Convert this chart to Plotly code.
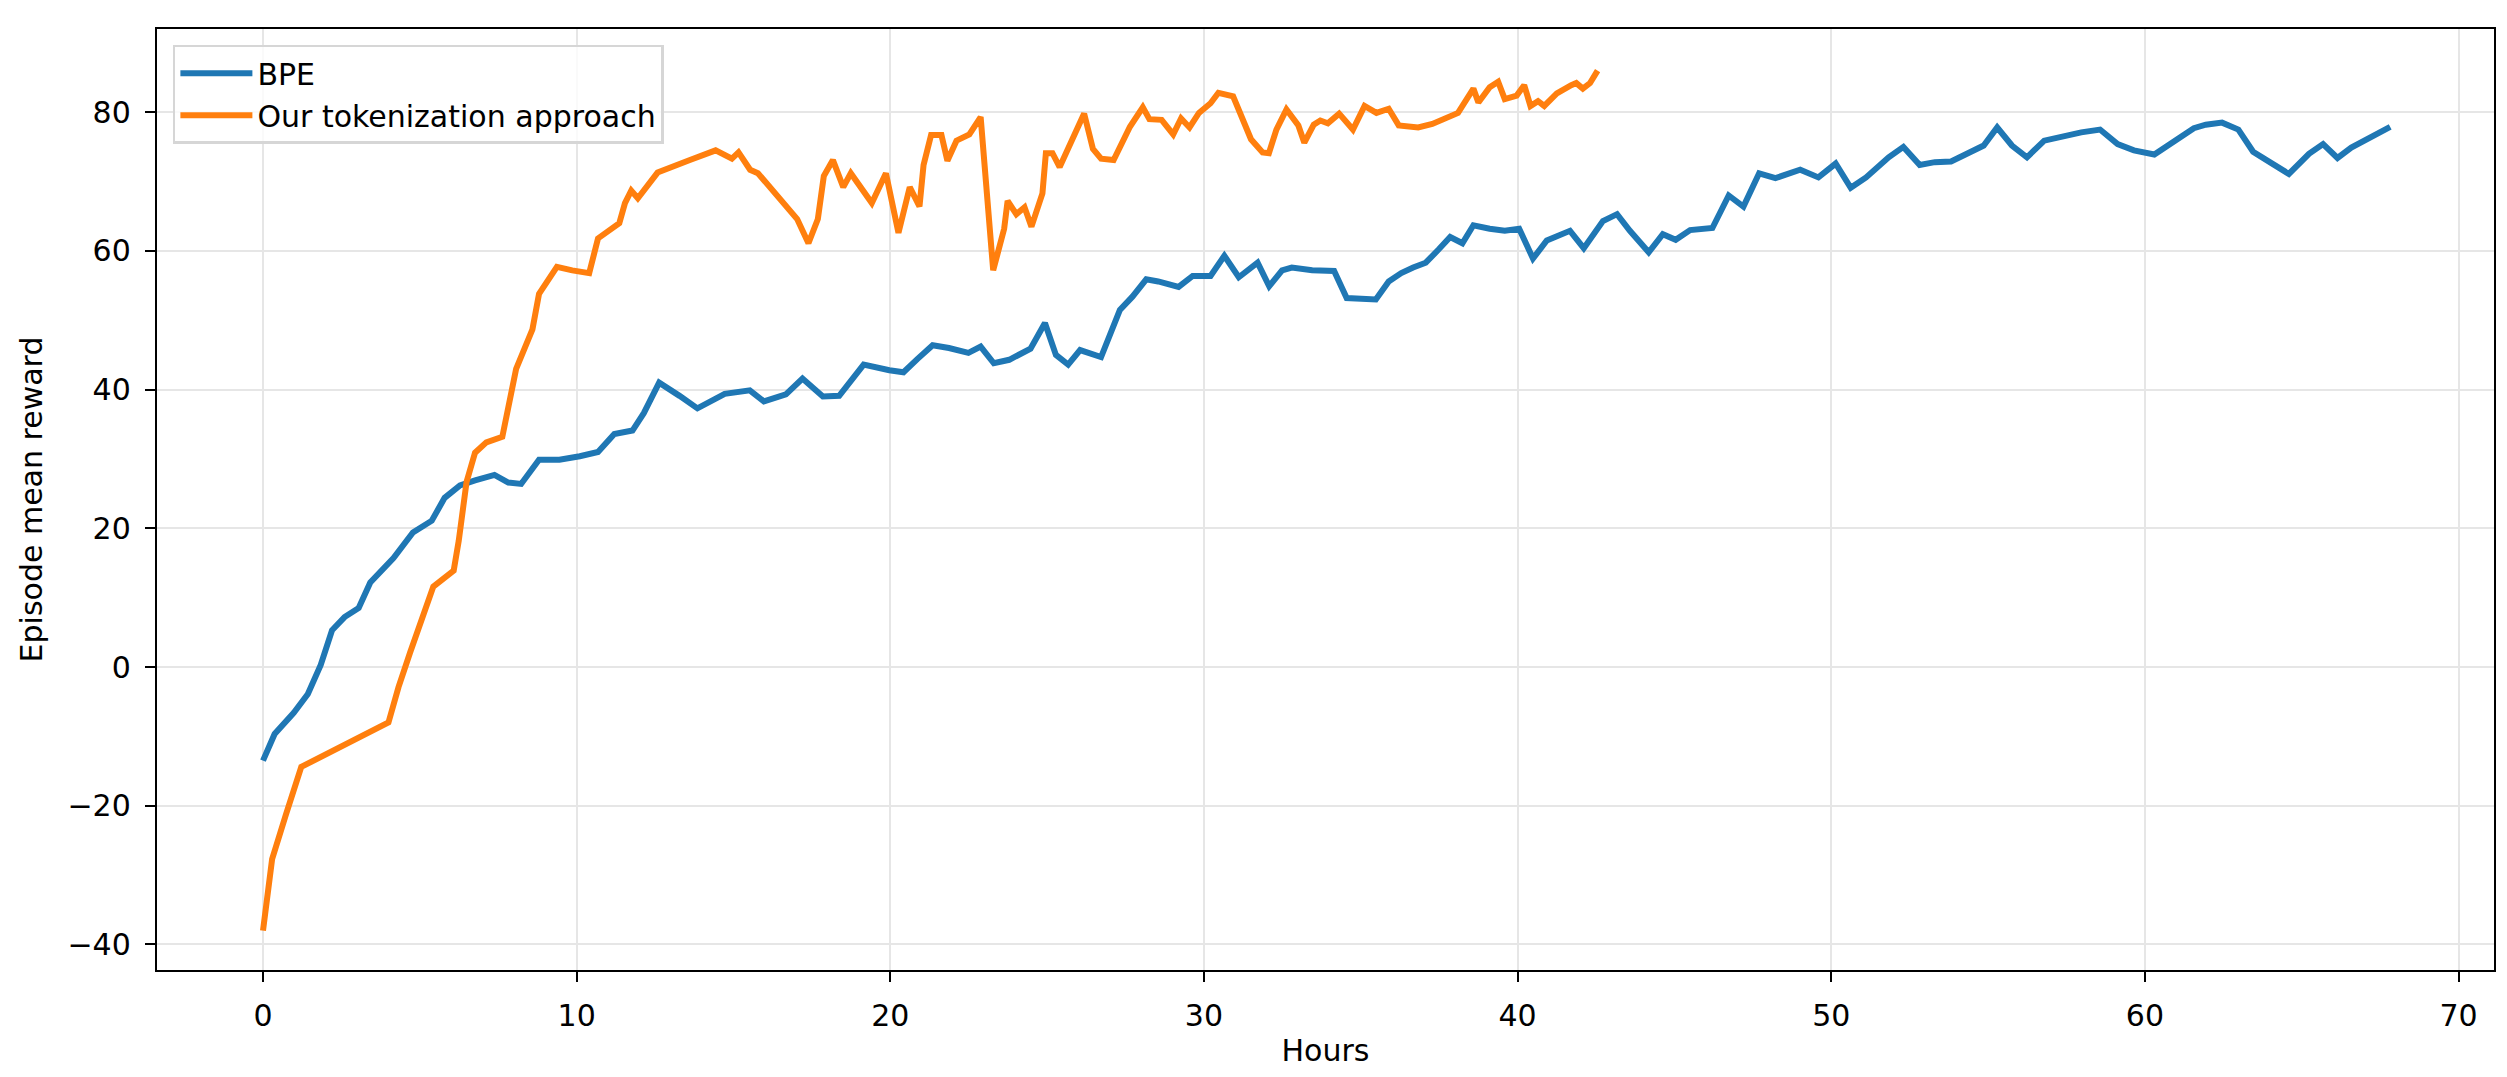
import plotly.graph_objects as go

# BPE run
bpe_hours = [0, 0.37, 0.98, 1.43, 1.84, 2.2, 2.6, 3.05, 3.42, 4.16,
             4.78, 5.38, 5.79, 6.28, 6.76, 7.38, 7.82, 8.23, 8.8, 9.45,
             10.1, 10.68, 11.2, 11.78, 12.14, 12.63, 13.28, 13.85, 14.72, 15.52,
             15.97, 16.67, 17.2, 17.85, 18.37, 19.15, 19.97, 20.42, 20.86, 21.35,
             21.87, 22.49, 22.88, 23.3, 23.79, 24.47, 24.93, 25.28, 25.67, 26.05,
             26.72, 27.32, 27.72, 28.16, 28.54, 29.19, 29.64, 30.21, 30.65, 31.11,
             31.71, 32.08, 32.49, 32.8, 33.45, 34.15, 34.55, 35.48, 35.89, 36.29,
             36.67, 37.07, 37.48, 37.85, 38.24, 38.59, 39.11, 39.59, 40.05, 40.49,
             40.93, 41.67, 42.11, 42.72, 43.17, 43.58, 44.18, 44.63, 45.04, 45.5,
             46.21, 46.73, 47.2, 47.7, 48.22, 49.01, 49.59, 50.14, 50.62, 51.11,
             51.83, 52.3, 52.82, 53.3, 53.82, 54.86, 55.29, 55.76, 56.24, 56.79,
             57.97, 58.57, 59.13, 59.65, 60.3, 60.91, 61.56, 61.94, 62.46, 62.98,
             63.45, 64.02, 64.59, 65.23, 65.68, 66.14, 66.58, 67.82]
bpe_reward = [-13.5, -9.65, -6.6, -3.9, 0.3, 5.3, 7.2, 8.5, 12.2, 15.7,
              19.4, 21.1, 24.4, 26.2, 26.9, 27.7, 26.6, 26.4, 29.9, 29.9,
              30.4, 31.0, 33.6, 34.1, 36.6, 41.0, 39.1, 37.3, 39.4, 39.9,
              38.3, 39.3, 41.6, 39.0, 39.1, 43.6, 42.8, 42.5, 44.4, 46.4,
              46.0, 45.3, 46.2, 43.8, 44.3, 45.9, 49.6, 45.0, 43.6, 45.7,
              44.7, 51.5, 53.4, 55.9, 55.6, 54.8, 56.4, 56.4, 59.3, 56.2,
              58.3, 54.9, 57.2, 57.6, 57.2, 57.1, 53.2, 53.0, 55.6, 56.8,
              57.6, 58.3, 60.2, 62.0, 61.1, 63.7, 63.2, 62.9, 63.2, 58.9,
              61.5, 62.9, 60.4, 64.3, 65.3, 62.9, 59.8, 62.4, 61.6, 63.0,
              63.3, 68.0, 66.4, 71.2, 70.5, 71.7, 70.6, 72.6, 69.1, 70.6,
              73.5, 75.0, 72.4, 72.8, 72.9, 75.2, 77.8, 75.2, 73.5, 75.9,
              77.1, 77.5, 75.4, 74.5, 73.9, 75.7, 77.7, 78.2, 78.5, 77.5,
              74.3, 72.7, 71.1, 74.0, 75.4, 73.4, 74.9, 77.9]

# our tokenization run
ours_hours = [0, 0.29, 0.73, 1.22, 4.0, 4.32, 4.69, 5.43, 6.08, 6.24,
              6.49, 6.76, 7.12, 7.63, 8.07, 8.59, 8.8, 9.13, 9.37, 9.86,
              10.4, 10.68, 11.36, 11.54, 11.74, 11.95, 12.58, 13.61, 14.43, 14.95,
              15.16, 15.53, 15.78, 17.03, 17.39, 17.69, 17.88, 18.17, 18.5, 18.74,
              19.07, 19.41, 19.86, 20.05, 20.26, 20.62, 20.93, 21.06, 21.3, 21.63,
              21.82, 22.11, 22.52, 22.88, 23.09, 23.28, 23.63, 23.74, 24.02, 24.28,
              24.5, 24.85, 24.96, 25.17, 25.4, 26.18, 26.46, 26.72, 27.12, 27.64,
              28.05, 28.26, 28.65, 29.02, 29.27, 29.54, 29.84, 30.21, 30.46, 30.93,
              31.5, 31.87, 32.07, 32.31, 32.63, 33.01, 33.2, 33.5, 33.71, 33.95,
              34.31, 34.55, 34.75, 35.12, 35.5, 35.89, 36.21, 36.83, 37.28, 38.1,
              38.59, 38.75, 39.11, 39.38, 39.59, 39.97, 40.21, 40.41, 40.65, 40.85,
              41.25, 41.71, 41.87, 42.08, 42.31, 42.55]
ours_reward = [-38.0, -27.7, -21.3, -14.4, -8.0, -2.9, 2.1, 11.6, 13.9, 18.2,
               26.7, 30.9, 32.4, 33.2, 43.0, 48.7, 53.8, 55.9, 57.7, 57.2,
               56.8, 61.8, 64.0, 66.9, 68.7, 67.6, 71.3, 73.1, 74.5, 73.3,
               74.2, 71.7, 71.2, 64.6, 61.1, 64.6, 70.8, 73.1, 69.2, 71.2,
               69.2, 66.9, 71.2, 67.4, 62.6, 69.2, 66.4, 72.4, 76.7, 76.7,
               73.0, 75.9, 76.8, 79.3, 68.3, 57.2, 63.2, 67.2, 65.3, 66.3,
               63.5, 68.3, 74.1, 74.1, 72.1, 79.8, 74.7, 73.3, 73.1, 77.9,
               80.7, 79.0, 78.9, 76.8, 79.1, 77.8, 79.9, 81.3, 82.8, 82.3,
               76.1, 74.2, 74.1, 77.5, 80.4, 78.1, 75.6, 78.2, 78.8, 78.4,
               79.8, 78.7, 77.5, 80.9, 79.9, 80.5, 78.1, 77.8, 78.3, 79.9,
               83.4, 81.4, 83.6, 84.4, 81.9, 82.4, 83.9, 80.9, 81.6, 80.9,
               82.7, 83.9, 84.2, 83.4, 84.2, 86.0]

font_family = "DejaVu Sans"
font_size = 30

fig = go.Figure()

fig.add_trace(go.Scatter(
    x=bpe_hours, y=bpe_reward, mode="lines", name="BPE",
    line=dict(color="#1f77b4", width=6),
))
fig.add_trace(go.Scatter(
    x=ours_hours, y=ours_reward, mode="lines", name="Our tokenization approach",
    line=dict(color="#ff7f0e", width=6),
))

axis_style = dict(
    showline=True, linecolor="black", linewidth=2.4, mirror=True,
    showgrid=True, gridcolor="#e6e6e6", gridwidth=2.2,
    zeroline=False,
    ticks="outside", ticklen=10, tickwidth=2.4, tickcolor="black",
    ticklabelstandoff=8,
    tickfont=dict(family=font_family, size=font_size, color="black"),
)

fig.update_layout(
    width=2507,
    height=1077,
    autosize=False,
    margin=dict(l=149, r=21, t=21, b=115),
    paper_bgcolor="white",
    plot_bgcolor="white",
    font=dict(family=font_family, size=font_size, color="black"),
    showlegend=True,
    legend=dict(
        x=0.0068, y=0.9833, xanchor="left", yanchor="top",
        bgcolor="rgba(255,255,255,0.8)",
        bordercolor="#d6d6d6", borderwidth=2.5,
        itemwidth=72,
        font=dict(family=font_family, size=font_size, color="black"),
    ),
)

fig.update_xaxes(
    axis_style,
    range=[-3.38, 71.13], dtick=10, tick0=0,
    title=dict(text="Hours", standoff=8, font=dict(family=font_family, size=font_size)),
)
fig.update_yaxes(
    axis_style,
    range=[-43.69, 92.0], dtick=20, tick0=0,
    title=dict(text="Episode mean reward", standoff=16, font=dict(family=font_family, size=font_size)),
)

fig.write_html("out.html")
